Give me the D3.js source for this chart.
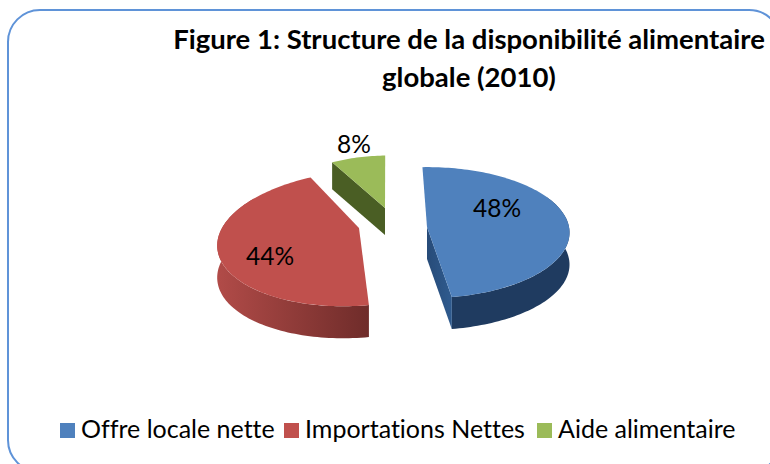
<!DOCTYPE html>
<html>
<head>
<meta charset="utf-8">
<script src="https://cdn.jsdelivr.net/npm/d3@7"></script>
<style>
  html, body { margin: 0; padding: 0; background: #fff; overflow: hidden; }
  svg { display: block; }
  text { font-family: Lato, "Open Sans", sans-serif; fill: #000; font-variant-ligatures: none; }
</style>
</head>
<body>
<svg width="770" height="464"></svg>
<script>
const categories = ["Offre locale nette", "Importations Nettes", "Aide alimentaire"];
const shares = [48, 44, 8];
const colors = ["#4f81bd", "#c0504d", "#9bbb59"];
const titleLines = ["Figure 1: Structure de la disponibilité alimentaire", "globale (2010)"];

const svg = d3.select("svg");

// each slice is pulled out by hand, like the exploded pie of the original
// tilt: front looks larger than the back, lean: horizontal shift of front/back
const sliceShape = [
  { cx: 427, cy: 227, rx: 142, ry: 65, tilt: 0.085, lean: 0, depth: 32, wallDark: "#1e3a5f", wallLight: "#2f5b8f" },
  { cx: 359, cy: 228, rx: 137, ry: 66.5, tilt: 0.15, lean: -16, depth: 32, wallDark: "#6f2c2a", wallLight: "#b14b48" },
  { cx: 385, cy: 208, rx: 118, ry: 57, tilt: 0.085, lean: -4, depth: 27, wallDark: "#4a5e24", wallLight: "#4a5e24" }
];
const startAngle = (-2 * Math.PI) / 180;

const pie = d3.pie().sort(null).startAngle(startAngle).endAngle(startAngle + 2 * Math.PI);
const arcs = pie(shares);

function project(s, angle) {
  const u = Math.sin(angle);
  const v = -Math.cos(angle);
  const w = 1 - s.tilt * v;
  return [s.cx + (s.rx * u) / w + s.lean * v, s.cy + (s.ry * v) / w];
}

function arcPoints(s, a0, a1) {
  const n = Math.max(2, Math.ceil((a1 - a0) * 40));
  return d3.range(n + 1).map((i) => project(s, a0 + ((a1 - a0) * i) / n));
}

const line = d3.line();
const defs = svg.append("defs");

// Cadre arrondi
svg.append("rect")
  .attr("x", 8).attr("y", 10)
  .attr("width", 773).attr("height", 462)
  .attr("rx", 32).attr("ry", 32)
  .attr("fill", "#fff")
  .attr("stroke", "#5f93d8")
  .attr("stroke-width", 2);

svg.selectAll(".title")
  .data(titleLines)
  .join("text")
  .attr("class", "title")
  .attr("x", 469)
  .attr("y", (d, i) => 49 + i * 38)
  .attr("text-anchor", "middle")
  .attr("font-size", 27.5)
  .attr("font-weight", 700)
  .text((d) => d);

const slice = svg.selectAll(".slice")
  .data(arcs)
  .join("g")
  .attr("class", "slice");

slice.each(function (d, i) {
  const s = sliceShape[i];
  const g = d3.select(this);
  const gradId = "wall" + i;
  const grad = defs.append("linearGradient").attr("id", gradId);
  grad.append("stop").attr("offset", "0%").attr("stop-color", s.wallLight);
  grad.append("stop").attr("offset", "100%").attr("stop-color", s.wallDark);

  // a bit past the sides, the rim's extreme is not exactly at 90/270 degrees
  const a0 = Math.max(d.startAngle, Math.PI / 2 - 0.5);
  const a1 = Math.min(d.endAngle, (3 * Math.PI) / 2 + 0.5);
  const apex = [s.cx, s.cy];

  // mur exterieur
  if (a1 > a0) {
    const rim = arcPoints(s, a0, a1);
    const low = rim.map((p) => [p[0], p[1] + s.depth]).reverse();
    g.append("path")
      .attr("d", line(rim.concat(low)) + "Z")
      .attr("fill", i === 0 ? "#1f3b60" : `url(#${gradId})`);
  }

  // mur de coupe visible
  if (i === 0) {
    const edge = project(s, d.endAngle);
    const faceGrad = defs.append("linearGradient").attr("id", "cut0");
    faceGrad.append("stop").attr("offset", "0%").attr("stop-color", "#274b78");
    faceGrad.append("stop").attr("offset", "100%").attr("stop-color", "#2f5b8f");
    g.append("path")
      .attr("d", line([apex, edge, [edge[0], edge[1] + s.depth], [apex[0], apex[1] + s.depth]]) + "Z")
      .attr("fill", "url(#cut0)");
  }
  if (i === 2) {
    const edge = project(s, d.startAngle);
    g.append("path")
      .attr("d", line([edge, apex, [apex[0], apex[1] + s.depth], [edge[0], edge[1] + s.depth]]) + "Z")
      .attr("fill", s.wallDark);
  }

  // dessus
  g.append("path")
    .attr("d", line([apex].concat(arcPoints(s, d.startAngle, d.endAngle))) + "Z")
    .attr("fill", colors[i]);
});

// Etiquettes
const labelPos = [[497, 217], [270, 265], [354, 153]];
svg.selectAll(".label")
  .data(shares)
  .join("text")
  .attr("class", "label")
  .attr("x", (d, i) => labelPos[i][0])
  .attr("y", (d, i) => labelPos[i][1])
  .attr("text-anchor", "middle")
  .attr("font-size", 24.5)
  .text((d) => d + "%");

// Legende
const legendX = [60, 284, 537];
const legend = svg.selectAll(".legend")
  .data(categories)
  .join("g")
  .attr("class", "legend")
  .attr("transform", (d, i) => `translate(${legendX[i]},423)`);
legend.append("rect")
  .attr("width", 15).attr("height", 15)
  .attr("fill", (d, i) => colors[i]);
legend.append("text")
  .attr("x", 21).attr("y", 15)
  .attr("font-size", 25)
  .text((d) => d);
</script>
</body>
</html>
